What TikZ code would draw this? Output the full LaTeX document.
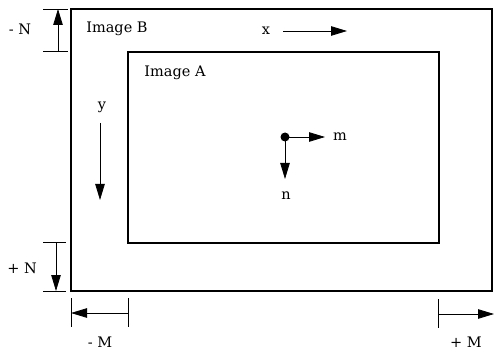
\documentclass[tikz,border=0pt]{standalone}
\usepackage{fontspec}
\setmainfont{DejaVu Serif}
\usetikzlibrary{arrows.meta,positioning,calc}

\tikzset{
  lbl/.style={inner sep=0pt, font=\fontsize{14.5}{16}\selectfont},
  dimarrow/.style={thick, -{Triangle[length=16pt,width=9.5pt]}},
  tick/.style={thick},
  frame/.style={line width=1.3pt}
}

\begin{document}
\begin{tikzpicture}[x=1pt,y=-1pt]
  \useasboundingbox (0,0) rectangle (494,352);

  % the two images
  \draw[frame] (71,9) rectangle (492,291);
  \draw[frame] (128,52) rectangle (439,243);
  \node[lbl] (imgB) at (117,29) {Image B};
  \node[lbl] (imgA) at (175,73) {Image A};

  % x and y directions of image B
  \node[lbl] (xlab) at (266,31) {x};
  \coordinate (xs) at (283,31);
  \coordinate (xe) at (347,31);
  \draw[dimarrow] (xs) -- (xe);

  \node[lbl] (ylab) at (102,107) {y};
  \coordinate (ys) at (100,123);
  \coordinate (ye) at (100,200);
  \draw[dimarrow] (ys) -- (ye);

  % point with m and n directions
  \fill (285,137) circle (4.5) coordinate (pt);
  \coordinate (me) at (325,137);
  \coordinate (ne) at (285,179);
  \draw[dimarrow] (pt) -- (me);
  \draw[dimarrow] (pt) -- (ne);
  \node[lbl] (mlab) at (340,137) {m};
  \node[lbl] (nlab) at (286,196) {n};

  % -N
  \draw[tick] (43,9) -- (68,9);
  \draw[tick] (43,51) -- (68,51);
  \coordinate (mNs) at (58,51);
  \coordinate (mNe) at (58,9);
  \draw[dimarrow] (mNs) -- (mNe);
  \node[lbl] (mN) at (20,29) {- N};

  % +N
  \draw[tick] (43,242) -- (66,242);
  \draw[tick] (43,291) -- (66,291);
  \coordinate (pNs) at (56,242);
  \coordinate (pNe) at (56,291);
  \draw[dimarrow] (pNs) -- (pNe);
  \node[lbl] (pN) at (22,268) {+ N};

  % -M
  \draw[tick] (71,298) -- (71,327);
  \draw[tick] (128,298) -- (128,327);
  \coordinate (mMs) at (128,313);
  \coordinate (mMe) at (71,313);
  \draw[dimarrow] (mMs) -- (mMe);
  \node[lbl] (mM) at (100,342) {- M};

  % +M
  \draw[tick] (438,299) -- (438,328);
  \coordinate (pMs) at (438,314);
  \coordinate (pMe) at (494,314);
  \draw[dimarrow] (pMs) -- (pMe);
  \node[lbl] (pM) at (466,342) {+ M};
\end{tikzpicture}
\end{document}
